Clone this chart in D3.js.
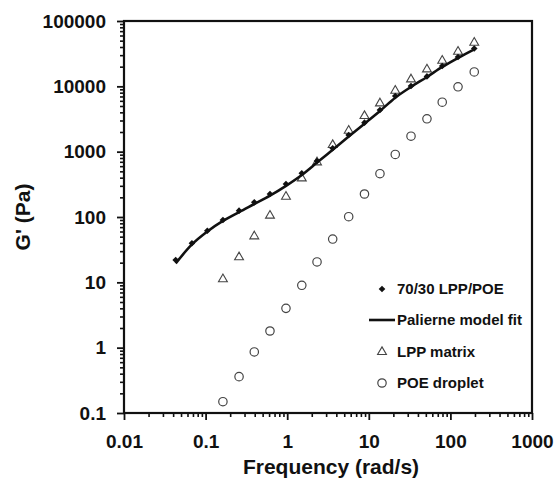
<!DOCTYPE html>
<html>
<head>
<meta charset="utf-8">
<script src="https://cdn.jsdelivr.net/npm/d3@7"></script>
<style>
  body { margin: 0; background: #fff; }
  text { font-family: Arial, "Liberation Sans", sans-serif; font-weight: bold; fill: #111; }
</style>
</head>
<body>
<script>
// Frequencies (rad/s)
const blendFreq = [0.043, 0.068, 0.105, 0.163, 0.257, 0.395, 0.615, 0.966, 1.51, 2.32,
                   3.61, 5.67, 8.85, 13.7, 21.1, 32.9, 51.6, 79.4, 124, 196];
const compFreq = [0.163, 0.257, 0.395, 0.615, 0.966, 1.51, 2.32, 3.61, 5.67, 8.85,
                  13.7, 21.1, 32.9, 51.6, 79.4, 124, 196];

// G' (Pa) values
const blendG = [22, 39.6, 61.7, 90, 125, 168, 225, 320, 467, 720,
                1127, 1800, 2780, 4345, 7110, 10100, 14200, 20500, 28100, 37900];
const fitG = [19.5, 38, 60, 87, 119, 158, 212, 300, 440, 680,
              1070, 1700, 2680, 4200, 6700, 9800, 13900, 19800, 27200, 36800];
const lppG = [11.2, 24.2, 50.7, 105, 205, 391, 688, 1265, 2094, 3516,
              5500, 8580, 12800, 18200, 24700, 33900, 46600];
const poeG = [0.149, 0.36, 0.86, 1.80, 4.0, 9.0, 20.5, 46, 101, 225,
              460, 906, 1726, 3185, 5720, 9840, 16600];

// Axis ticks
const xTicks = [0.01, 0.1, 1, 10, 100, 1000];
const xTickLabels = ["0.01", "0.1", "1", "10", "100", "1000"];
const yTicks = [0.1, 1, 10, 100, 1000, 10000, 100000];
const yTickLabels = ["0.1", "1", "10", "100", "1000", "10000", "100000"];

const legendLabels = ["70/30 LPP/POE", "Palierne model fit", "LPP matrix", "POE droplet"];

const W = 556, H = 480;
const plot = { left: 124, right: 532, top: 21, bottom: 413 };

const svg = d3.select("body").append("svg")
  .attr("width", W)
  .attr("height", H);

const x = d3.scaleLog().domain([0.01, 1000]).range([plot.left, plot.right]);
const y = d3.scaleLog().domain([0.1, 100000]).range([plot.bottom, plot.top]);

// minor ticks: 2..9 in every decade
function minors(lo, hi) {
  const out = [];
  for (let e = Math.log10(lo); e < Math.log10(hi); e++) {
    for (let k = 2; k <= 9; k++) out.push(k * Math.pow(10, e));
  }
  return out;
}

// frame
svg.append("rect")
  .attr("x", plot.left).attr("y", plot.top)
  .attr("width", plot.right - plot.left).attr("height", plot.bottom - plot.top)
  .attr("fill", "none").attr("stroke", "#111").attr("stroke-width", 2.2);

// x axis
svg.append("g")
  .attr("transform", `translate(0,${plot.bottom})`)
  .call(d3.axisBottom(x).tickValues(minors(0.01, 1000)).tickSize(4).tickFormat(""))
  .call(g => g.select(".domain").remove())
  .call(g => g.selectAll("line").attr("stroke", "#111").attr("stroke-width", 1.6));

svg.append("g")
  .attr("transform", `translate(0,${plot.bottom})`)
  .call(d3.axisBottom(x).tickValues(xTicks).tickSize(7).tickPadding(15)
    .tickFormat((d, i) => xTickLabels[i]))
  .call(g => g.select(".domain").remove())
  .call(g => g.selectAll("line").attr("stroke", "#111").attr("stroke-width", 1.8))
  .call(g => g.selectAll("text").attr("font-size", 19).attr("fill", "#111"));

// y axis
svg.append("g")
  .attr("transform", `translate(${plot.left},0)`)
  .call(d3.axisLeft(y).tickValues(minors(0.1, 100000)).tickSize(4).tickFormat(""))
  .call(g => g.select(".domain").remove())
  .call(g => g.selectAll("line").attr("stroke", "#111").attr("stroke-width", 1.6));

svg.append("g")
  .attr("transform", `translate(${plot.left},0)`)
  .call(d3.axisLeft(y).tickValues(yTicks).tickSize(7).tickPadding(11)
    .tickFormat((d, i) => yTickLabels[i]))
  .call(g => g.select(".domain").remove())
  .call(g => g.selectAll("line").attr("stroke", "#111").attr("stroke-width", 1.8))
  .call(g => g.selectAll("text").attr("font-size", 19).attr("fill", "#111"));

// axis titles
svg.append("text")
  .attr("x", (plot.left + plot.right) / 2 + 3)
  .attr("y", 474)
  .attr("text-anchor", "middle")
  .attr("font-size", 21)
  .text("Frequency (rad/s)");

svg.append("text")
  .attr("transform", `translate(30,${(plot.top + plot.bottom) / 2}) rotate(-90)`)
  .attr("text-anchor", "middle")
  .attr("font-size", 21)
  .text("G' (Pa)");

// markers
const diamond = d3.symbol(d3.symbolSquare, 22);
const triangle = d3.symbol(d3.symbolTriangle, 34);

// LPP matrix
svg.append("g").selectAll("path")
  .data(compFreq.map((f, i) => [f, lppG[i]]))
  .join("path")
  .attr("d", triangle)
  .attr("transform", d => `translate(${x(d[0])},${y(d[1])})`)
  .attr("fill", "#fff").attr("stroke", "#444").attr("stroke-width", 1.1);

// POE droplet
svg.append("g").selectAll("circle")
  .data(compFreq.map((f, i) => [f, poeG[i]]))
  .join("circle")
  .attr("cx", d => x(d[0]))
  .attr("cy", d => y(d[1]))
  .attr("r", 4.2)
  .attr("fill", "none").attr("stroke", "#444").attr("stroke-width", 1.2);

// blend diamonds
svg.append("g").selectAll("path")
  .data(blendFreq.map((f, i) => [f, blendG[i]]))
  .join("path")
  .attr("d", diamond)
  .attr("transform", d => `translate(${x(d[0])},${y(d[1])}) rotate(45)`)
  .attr("fill", "#111");

// Palierne fit
const line = d3.line()
  .x(d => x(d[0]))
  .y(d => y(d[1]))
  .curve(d3.curveMonotoneX);

svg.append("path")
  .datum(blendFreq.map((f, i) => [f, fitG[i]]))
  .attr("d", line)
  .attr("fill", "none")
  .attr("stroke", "#111")
  .attr("stroke-width", 2.6);

// legend
const lgX = 382, lgText = 397;
const lgY = [289, 320, 352, 383];

const lg = svg.append("g");
lg.append("path")
  .attr("d", diamond)
  .attr("transform", `translate(${lgX},${lgY[0]}) rotate(45)`)
  .attr("fill", "#111");
lg.append("line")
  .attr("x1", 369).attr("x2", 395)
  .attr("y1", lgY[1]).attr("y2", lgY[1])
  .attr("stroke", "#111").attr("stroke-width", 2.6);
lg.append("path")
  .attr("d", triangle)
  .attr("transform", `translate(${lgX},${lgY[2]})`)
  .attr("fill", "#fff").attr("stroke", "#444").attr("stroke-width", 1.1);
lg.append("circle")
  .attr("cx", lgX).attr("cy", lgY[3]).attr("r", 4.2)
  .attr("fill", "none").attr("stroke", "#444").attr("stroke-width", 1.2);

lg.selectAll("text")
  .data(legendLabels)
  .join("text")
  .attr("x", lgText)
  .attr("y", (d, i) => lgY[i])
  .attr("dy", "0.36em")
  .attr("font-size", 15)
  .text(d => d);
</script>
</body>
</html>
